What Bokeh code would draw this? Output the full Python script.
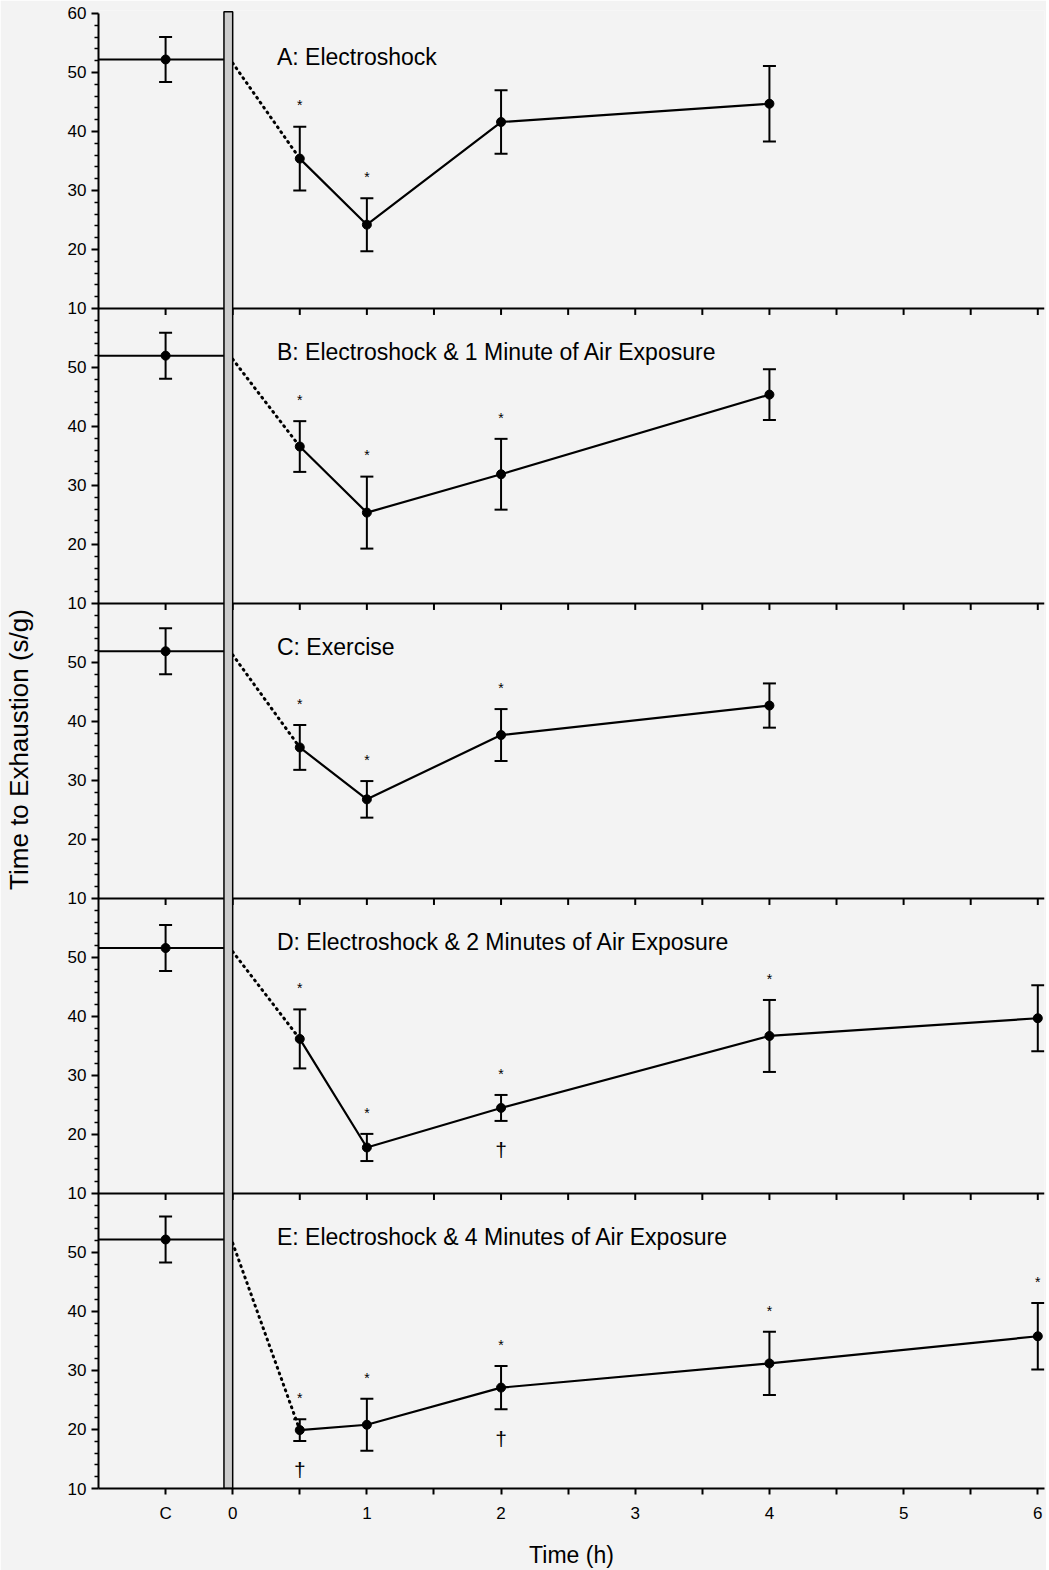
import numpy as np
from bokeh.plotting import figure
from bokeh.models import FixedTicker, Span, Whisker, TeeHead, ColumnDataSource, Range1d
from bokeh.core.properties import value
from bokeh.embed import file_html
from bokeh.resources import INLINE

# ---------------- data ----------------
panel_titles = [
    "A: Electroshock",
    "B:  Electroshock & 1 Minute of Air Exposure",
    "C: Exercise",
    "D:  Electroshock & 2 Minutes of Air Exposure",
    "E:  Electroshock & 4 Minutes of Air Exposure",
]

control_x = -0.5
control_mean = [52.2, 52.0, 51.9, 51.6, 52.2]
control_err = [3.8, 3.9, 3.9, 3.9, 3.9]

times_A = [0.5, 1, 2, 4]
mean_A = [35.4, 24.2, 41.6, 44.7]
err_A = [5.4, 4.5, 5.4, 6.4]
star_A = [0.5, 1]
dagger_A = []

times_B = [0.5, 1, 2, 4]
mean_B = [36.6, 25.4, 31.9, 45.4]
err_B = [4.3, 6.1, 6.0, 4.3]
star_B = [0.5, 1, 2]
dagger_B = []

times_C = [0.5, 1, 2, 4]
mean_C = [35.6, 26.8, 37.7, 42.7]
err_C = [3.8, 3.1, 4.4, 3.75]
star_C = [0.5, 1, 2]
dagger_C = []

times_D = [0.5, 1, 2, 4, 6]
mean_D = [36.2, 17.8, 24.5, 36.7, 39.7]
err_D = [5.0, 2.3, 2.2, 6.1, 5.6]
star_D = [0.5, 1, 2, 4]
dagger_D = [2]

times_E = [0.5, 1, 2, 4, 6]
mean_E = [19.9, 20.8, 27.1, 31.2, 35.8]
err_E = [1.85, 4.4, 3.65, 5.35, 5.65]
star_E = [0.5, 1, 2, 4, 6]
dagger_E = [0.5, 2]

x_tick_positions = [-0.5, 0, 0.5, 1, 1.5, 2, 2.5, 3, 3.5, 4, 4.5, 5, 5.5, 6]
x_tick_labels = ["C", "0", "", "1", "", "2", "", "3", "", "4", "", "5", "", "6"]

y_panel_ticks = [10, 20, 30, 40, 50]
y_panel_labels = ["10", "20", "30", "40", "50"]
y_top_label = "60"
panel_span = 50  # each panel covers 10..60

panels = [
    (times_A, mean_A, err_A, star_A, dagger_A),
    (times_B, mean_B, err_B, star_B, dagger_B),
    (times_C, mean_C, err_C, star_C, dagger_C),
    (times_D, mean_D, err_D, star_D, dagger_D),
    (times_E, mean_E, err_E, star_E, dagger_E),
]

# ---------------- style ----------------
FONT = "Liberation Sans"
BG = "#f3f3f3"
n_pan = len(panels)
y_lo = 10
y_hi = 10 + panel_span * n_pan  # 260

p = figure(
    frame_width=946, frame_height=1478,
    x_range=Range1d(-1, 6.05), y_range=Range1d(y_lo, y_hi + 0.5),
    output_backend="svg", toolbar_location=None,
    min_border_left=98, min_border_right=2, min_border_top=10, min_border_bottom=0,
    background_fill_color=BG, border_fill_color=BG, outline_line_color=None,
)
p.grid.visible = False

# y axis: ticks for every panel
major = []
labels = {}
for k in range(n_pan):
    off = panel_span * k
    for v, lab in zip(y_panel_ticks, y_panel_labels):
        major.append(v + off)
        labels[v + off] = lab
major.append(y_hi)
labels[y_hi] = y_top_label
minor = [v for v in range(y_lo, y_hi + 1, 2) if v not in major]
p.yaxis.ticker = FixedTicker(ticks=major, minor_ticks=minor)
p.yaxis.major_label_overrides = labels
p.yaxis.bounds = (y_lo, y_hi)
p.yaxis.axis_line_width = 2
p.yaxis.major_tick_line_width = 2
p.yaxis.major_tick_out = 7
p.yaxis.major_tick_in = 0
p.yaxis.minor_tick_out = 4
p.yaxis.minor_tick_in = 0
p.yaxis.minor_tick_line_width = 1.5
p.yaxis.major_label_standoff = 5
p.yaxis.major_label_text_font = FONT
p.yaxis.major_label_text_font_size = "17px"
p.yaxis.major_label_text_color = "black"
p.yaxis.axis_label = "Time to Exhaustion (s/g)"
p.yaxis.axis_label_text_font = FONT
p.yaxis.axis_label_text_font_size = "26px"
p.yaxis.axis_label_text_font_style = "normal"
p.yaxis.axis_label_text_color = "black"
p.yaxis.axis_label_standoff = 31

# x axis
p.xaxis.ticker = FixedTicker(ticks=x_tick_positions, minor_ticks=[])
p.xaxis.major_label_overrides = {float(t): l for t, l in zip(x_tick_positions, x_tick_labels)}
p.xaxis.bounds = (-1, 6.05)
p.xaxis.axis_line_width = 2
p.xaxis.major_tick_line_width = 2
p.xaxis.major_tick_out = 6
p.xaxis.major_tick_in = 0
p.xaxis.major_label_standoff = 9
p.xaxis.major_label_text_font = FONT
p.xaxis.major_label_text_font_size = "17px"
p.xaxis.major_label_text_color = "black"
p.xaxis.axis_label = "Time (h)"
p.xaxis.axis_label_text_font = FONT
p.xaxis.axis_label_text_font_size = "23px"
p.xaxis.axis_label_text_font_style = "normal"
p.xaxis.axis_label_text_color = "black"
p.xaxis.axis_label_standoff = 16

# panel boundaries with downward ticks
for k in range(1, n_pan):
    b = y_lo + panel_span * k
    p.add_layout(Span(location=b, dimension="width", line_width=2,
                      line_color="black", level="underlay"))
    p.segment(x0=x_tick_positions, x1=x_tick_positions,
              y0=[b] * len(x_tick_positions), y1=[b - 1.1] * len(x_tick_positions),
              line_width=2, line_color="black")

bar_left, bar_right = -0.065, 0.0

for k, (t, m, e, st, dg) in enumerate(panels):
    off = panel_span * (n_pan - 1 - k)
    t = np.array(t, dtype=float)
    m = np.array(m) + off
    e = np.array(e)
    cm = control_mean[k] + off
    ce = control_err[k]

    # control line to the bar and dotted link to first point
    p.line([-1, bar_left], [cm, cm], line_width=2, line_color="black")
    p.line([bar_right, t[0]], [cm - 0.6, m[0]], line_width=3, line_color="black",
           line_dash="1 5", line_cap="round")

    # data line
    p.line(t, m, line_width=2.2, line_color="black")

    # error bars
    src = ColumnDataSource(dict(x=np.concatenate([[control_x], t]),
                                y=np.concatenate([[cm], m]),
                                upper=np.concatenate([[cm + ce], m + e]),
                                lower=np.concatenate([[cm - ce], m - e])))
    p.add_layout(Whisker(source=src, base="x", upper="upper", lower="lower",
                         line_width=2, line_color="black",
                         upper_head=TeeHead(size=13, line_width=2, line_color="black"),
                         lower_head=TeeHead(size=13, line_width=2, line_color="black")))
    p.scatter("x", "y", source=src, size=9, color="black")

    # significance marks
    idx_s = [list(t).index(s) for s in st]
    if idx_s:
        p.text(x=t[idx_s], y=m[idx_s] + e[idx_s] + 3.6, text=["*"] * len(idx_s),
               text_font=value(FONT), text_font_size="14px", text_align="center",
               text_baseline="alphabetic", text_color="black")
    idx_d = [list(t).index(s) for s in dg]
    if idx_d:
        p.text(x=t[idx_d], y=m[idx_d] - e[idx_d] - 4.9, text=["\u2020"] * len(idx_d),
               text_font=value(FONT), text_font_size="21px", text_align="center",
               text_baseline="alphabetic", text_color="black")

    # panel title
    p.text(x=[0.33], y=[52.7 + off], text=[panel_titles[k]],
           text_font=value(FONT), text_font_size="23px", text_align="left",
           text_baseline="alphabetic", text_color="black")

# vertical treatment bar across all panels
p.quad(left=[bar_left], right=[bar_right], bottom=[y_lo], top=[y_hi + 0.3],
       fill_color="#cbcbcb", line_color="black", line_width=1.5)

open("out.html", "w").write(file_html(p, INLINE))
